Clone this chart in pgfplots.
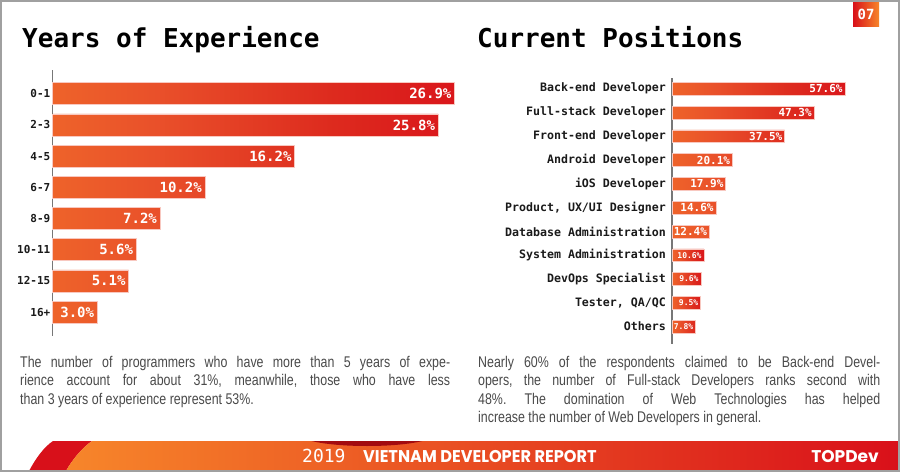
\documentclass[border=0pt]{standalone}
\usepackage{fontspec}
\usepackage{pgfplots}
\pgfplotsset{compat=1.18}
\setmainfont{Liberation Sans}
\newfontfamily\monofont{DejaVu Sans Mono}
\newfontfamily\bodyfont[FakeStretch=0.8]{Liberation Sans}
\newfontfamily\popcond[FakeStretch=0.95]{Poppins}
\newfontfamily\popfont{Poppins}
\definecolor{barorange}{HTML}{F7862A}
\definecolor{barmidA}{HTML}{F06A2A}
\definecolor{barmidB}{HTML}{E9502A}
\definecolor{barmidC}{HTML}{DD2A1E}
\definecolor{barred}{HTML}{D9101A}
\definecolor{barborder}{HTML}{F8C8C0}
\definecolor{axisgray}{HTML}{777777}
\definecolor{labelcol}{HTML}{1A1A1A}
\definecolor{bodygray}{HTML}{4A4A4A}
\definecolor{framegray}{HTML}{A0A0A0}
\definecolor{swred}{HTML}{D8101A}
\definecolor{bumpred}{HTML}{A30B10}
\definecolor{footmid}{HTML}{EC5428}
\pgfdeclarehorizontalshading{bargrad}{100bp}{color(0bp)=(barorange); color(8bp)=(barorange); color(20bp)=(barmidA); color(38bp)=(barmidB); color(60bp)=(barmidC); color(80bp)=(barred); color(100bp)=(barred)}
\frenchspacing
\begin{document}
\begin{tikzpicture}[x=1pt,y=1pt]
\useasboundingbox (0,0) rectangle (900,472);
\fill[white] (0,0) rectangle (900,472);
% titles
\node[anchor=base west, inner sep=0, font=\monofont\bfseries\fontsize{26}{26}\selectfont] at (22,424) {Years of Experience};
\node[anchor=base west, inner sep=0, font=\monofont\bfseries\fontsize{26}{26}\selectfont] at (477,424) {Current Positions};
% page number box
\shade[left color=swred, right color=barorange] (853,472) rectangle (879,445);
\node[font=\monofont\bfseries\fontsize{14}{14}\selectfont, text=white] at (866,458) {07};
% left chart
\begin{axis}[
  at={(52.5pt,402pt)}, anchor=north west, scale only axis,
  width=418.6pt, height=266pt,
  xmin=0, xmax=28, ymin=-0.76, ymax=7.766, y dir=reverse,
  axis x line=none, axis y line*=left,
  axis line style={draw=axisgray, line width=1.1pt, -},
  ytick={0,...,7},
  yticklabels={0-1,2-3,4-5,6-7,8-9,10-11,12-15,16+},
  yticklabel style={font=\monofont\bfseries\fontsize{11}{11}\selectfont, text=labelcol, inner sep=2pt},
  major tick length=0pt,
  point meta=explicit symbolic,
  nodes near coords,
  nodes near coords align={anchor=east},
  every node near coord/.append style={anchor=east, text=white, font=\monofont\bfseries\fontsize{14}{14}\selectfont, inner sep=3pt},
  clip=false,
]
\addplot[xbar, bar width=22pt, bar shift=0pt, draw=barborder, line width=0.5pt, shading=bargrad]
coordinates {
(26.9,0) [26.9\%]
(25.8,1) [25.8\%]
(16.2,2) [16.2\%]
(10.2,3) [10.2\%]
(7.2,4) [7.2\%]
(5.6,5) [5.6\%]
(5.1,6) [5.1\%]
(3.0,7) [3.0\%]
};
\end{axis}
% right chart
\begin{axis}[
  at={(672pt,394pt)}, anchor=north west, scale only axis,
  width=198pt, height=266pt,
  xmin=0, xmax=66, ymin=-0.45, ymax=10.73, y dir=reverse,
  axis x line=none, axis y line*=left,
  axis line style={draw=axisgray, line width=1.1pt, -},
  ytick={0,...,10},
  yticklabels={Back-end Developer,Full-stack Developer,Front-end Developer,Android Developer,iOS Developer,{Product, UX/UI Designer},Database Administration,System Administration,DevOps Specialist,{Tester, QA/QC},Others},
  yticklabel style={font=\monofont\bfseries\fontsize{11.6}{11.6}\selectfont, text=labelcol, inner sep=6pt},
  major tick length=0pt,
  point meta=explicit symbolic,
  nodes near coords,
  nodes near coords align={anchor=east},
  every node near coord/.append style={anchor=east, text=white, inner sep=2pt},
  clip=false,
]
\addplot[xbar, bar width=12.7pt, bar shift=0pt, draw=barborder, line width=0.5pt, shading=bargrad,
  nodes near coords style={font=\monofont\bfseries\fontsize{11}{11}\selectfont}]
coordinates {
(57.6,0) [57.6\%]
(47.3,1) [47.3\%]
(37.5,2) [37.5\%]
(20.1,3) [20.1\%]
(17.9,4) [17.9\%]
(14.6,5) [14.6\%]
(12.4,6) [12.4\%]
};
\addplot[xbar, bar width=12.7pt, bar shift=0pt, draw=barborder, line width=0.5pt, shading=bargrad,
  nodes near coords style={font=\monofont\bfseries\fontsize{8}{8}\selectfont}]
coordinates {
(10.6,7) [10.6\%]
(9.6,8) [9.6\%]
(9.5,9) [9.5\%]
(7.8,10) [7.8\%]
};
\end{axis}
% paragraphs
\node[anchor=north west, inner sep=0, text width=430pt, align=justify, text=bodygray,
  font=\bodyfont\fontsize{15.5}{18.3}\selectfont] at (20,116)
  {The number of programmers who have more than 5 years of expe-\linebreak rience account for about 31\%, meanwhile, those who have less\linebreak than 3 years of experience represent 53\%.};
\node[anchor=north west, inner sep=0, text width=402pt, align=justify, text=bodygray,
  font=\bodyfont\fontsize{15.5}{18.3}\selectfont] at (478,116)
  {Nearly 60\% of the respondents claimed to be Back-end Devel-\linebreak opers, the number of Full-stack Developers ranks second with\linebreak 48\%. The domination of Web Technologies has helped\linebreak increase the number of Web Developers in general.};
% footer
\fill[swred] (29,1) .. controls (36,14) and (44,25) .. (53,31) -- (92,31) .. controls (82,24) and (72,12) .. (66,1) -- cycle;
\shade[left color=barorange, middle color=footmid, right color=barred] (66,1) .. controls (72,12) and (82,24) .. (92,31) -- (898,31) -- (898,1) -- cycle;
\begin{scope}
\clip (92,1) rectangle (898,31);
\fill[bumpred] (367,37) ellipse (66 and 11);
\end{scope}
\node[anchor=base west, inner sep=0, text=white, font=\monofont\fontsize{18}{18}\selectfont] at (302,10) {2019};
\node[anchor=base west, inner sep=0, text=white, font=\popcond\bfseries\fontsize{17}{17}\selectfont] at (363,10) {VIETNAM DEVELOPER REPORT};
\node[anchor=base east, inner sep=0, text=white, font=\popfont\bfseries\fontsize{17}{17}\selectfont] at (879,10) {TOPDev};
% frame
\draw[framegray, line width=2pt] (1,1) rectangle (899,471);
\end{tikzpicture}
\end{document}
